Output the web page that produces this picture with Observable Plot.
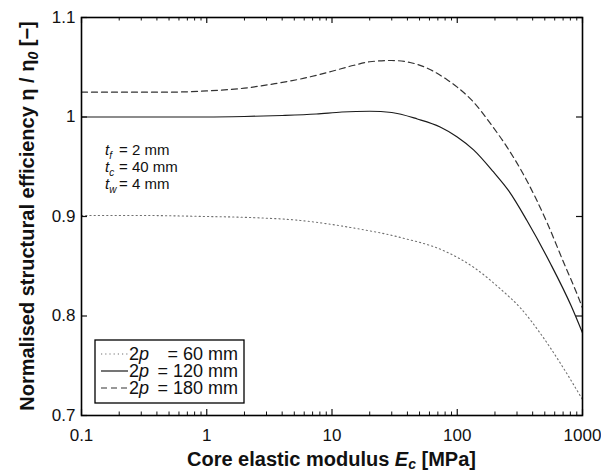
<!DOCTYPE html>
<html><head><meta charset="utf-8">
<script src="https://cdn.jsdelivr.net/npm/d3@7"></script>
<script src="https://cdn.jsdelivr.net/npm/@observablehq/plot@0.6"></script>
<style>body{margin:0;background:#fff}</style>
</head><body><div id="chart"></div>
<script>
// ---- data ----
const seriesLabels = ["60 mm", "120 mm", "180 mm"];

const E60   = [0.1, 0.3, 1, 2.2, 5.6, 14, 35, 80, 135, 222, 320, 464, 670, 1000];
const eta60 = [0.901, 0.901, 0.900, 0.899, 0.896, 0.889, 0.879, 0.865, 0.849, 0.827, 0.808, 0.782, 0.752, 0.716];

const E120   = [0.1, 0.5, 1, 2, 4, 7.5, 12, 20, 30, 48, 73, 100, 135, 194, 257, 360, 553, 813, 1000];
const eta120 = [1.000, 1.000, 1.000, 1.0005, 1.0015, 1.003, 1.005, 1.0058, 1.0045, 0.998, 0.990, 0.980, 0.967, 0.945, 0.926, 0.896, 0.853, 0.810, 0.783];

const E180   = [0.1, 0.5, 1, 2, 3.5, 6, 10, 15, 20, 30, 42, 60, 84, 100, 135, 185, 252, 332, 421, 525, 706, 912, 1000];
const eta180 = [1.025, 1.025, 1.0262, 1.029, 1.0335, 1.039, 1.046, 1.052, 1.0555, 1.0568, 1.0548, 1.048, 1.037, 1.030, 1.015, 0.993, 0.969, 0.944, 0.919, 0.893, 0.854, 0.821, 0.808];

const xTicks = [0.1, 1, 10, 100, 1000];
const xMinorTicks = [0.2,0.3,0.4,0.5,0.6,0.7,0.8,0.9, 2,3,4,5,6,7,8,9, 20,30,40,50,60,70,80,90, 200,300,400,500,600,700,800,900];
const yTicks = [0.7, 0.8, 0.9, 1.0, 1.1];

const annotation = [["f", "= 2 mm"], ["c", "= 40 mm"], ["w", "= 4 mm"]];

// ---- build tables ----
const toRows = (E, eta) => E.map((e, i) => ({E: e, eta: eta[i]}));
const d60 = toRows(E60, eta60), d120 = toRows(E120, eta120), d180 = toRows(E180, eta180);

const W = 601, H = 474, mL = 81, mR = 19, mT = 17, mB = 59;
const fW = W - mL - mR, fH = H - mT - mB;
const font = "'Liberation Sans', Arial, Helvetica, sans-serif";

const styles = [
  {stroke: "#707070", strokeWidth: 1.1, strokeDasharray: "1.2,3"},
  {stroke: "#1a1a1a", strokeWidth: 1.2, strokeDasharray: null},
  {stroke: "#333", strokeWidth: 1.2, strokeDasharray: "6,4"}
];

const plot = Plot.plot({
  width: W, height: H,
  marginLeft: mL, marginRight: mR, marginTop: mT, marginBottom: mB,
  style: {fontFamily: font, fontSize: "17px", color: "#111", background: "white"},
  x: {type: "log", domain: [0.1, 1000]},
  y: {domain: [0.7, 1.1]},
  marks: [
    Plot.line(d60,  {x: "E", y: "eta", curve: "monotone-x", ...styles[0]}),
    Plot.line(d120, {x: "E", y: "eta", curve: "monotone-x", ...styles[1]}),
    Plot.line(d180, {x: "E", y: "eta", curve: "monotone-x", ...styles[2]}),
    // inward ticks
    Plot.ruleX(xTicks, {x: d => d, insetTop: fH - 6, stroke: "#111", strokeWidth: 1.2}),
    Plot.ruleX(xTicks, {x: d => d, insetBottom: fH - 6, stroke: "#111", strokeWidth: 1.2}),
    Plot.ruleX(xMinorTicks, {x: d => d, insetTop: fH - 3.5, stroke: "#111", strokeWidth: 1}),
    Plot.ruleX(xMinorTicks, {x: d => d, insetBottom: fH - 3.5, stroke: "#111", strokeWidth: 1}),
    Plot.ruleY(yTicks, {y: d => d, insetRight: fW - 6, stroke: "#111", strokeWidth: 1.2}),
    Plot.ruleY(yTicks, {y: d => d, insetLeft: fW - 6, stroke: "#111", strokeWidth: 1.2}),
    Plot.axisX(xTicks, {tickSize: 0, tickPadding: 13, tickFormat: d => String(d), label: null}),
    Plot.axisY(yTicks, {tickSize: 0, tickPadding: 6, tickFormat: d => String(d), label: null}),
    Plot.frame({stroke: "#000", strokeWidth: 1.6})
  ]
});

document.getElementById("chart").appendChild(plot);
const svg = d3.select(plot);

// Y title
const yt = svg.append("text")
  .attr("transform", `translate(34,${mT + fH / 2}) rotate(-90)`)
  .attr("text-anchor", "middle")
  .attr("font-family", font).attr("font-weight", "bold").attr("font-size", 20).attr("fill", "#111");
yt.append("tspan").text("Normalised structural efficiency η / η");
yt.append("tspan").attr("font-style", "italic").attr("font-size", 14).attr("dy", 4).text("0");
yt.append("tspan").attr("dy", -4).text(" [−]");

// X title
const xt = svg.append("text")
  .attr("x", mL + fW / 2).attr("y", 466)
  .attr("text-anchor", "middle")
  .attr("font-family", font).attr("font-weight", "bold").attr("font-size", 20).attr("fill", "#111");
xt.append("tspan").text("Core elastic modulus ");
xt.append("tspan").attr("font-style", "italic").text("E");
xt.append("tspan").attr("font-style", "italic").attr("font-size", 14).attr("dy", 3).text("c");
xt.append("tspan").attr("dy", -3).text(" [MPa]");

// Annotation
annotation.forEach(([sub, txt], i) => {
  const t = svg.append("text").attr("x", 105).attr("y", 155 + i * 17).attr("text-anchor", "start")
    .attr("font-family", font).attr("font-size", 15).attr("fill", "#111");
  t.append("tspan").attr("font-style", "italic").text("t");
  t.append("tspan").attr("font-style", "italic").attr("font-size", 10).attr("dy", 4).text(sub);
  t.append("tspan").attr("x", 119).attr("dy", -4).attr("text-anchor", "start").text(txt);
});

// Legend
const lg = svg.append("g");
lg.append("rect").attr("x", 95).attr("y", 340).attr("width", 149).attr("height", 63)
  .attr("fill", "white").attr("stroke", "#000").attr("stroke-width", 1.3);
seriesLabels.forEach((lab, i) => {
  const y = 354 + i * 17;
  const s = styles[i];
  lg.append("line").attr("x1", 101).attr("x2", 128).attr("y1", y).attr("y2", y)
    .attr("stroke", s.stroke).attr("stroke-width", s.strokeWidth)
    .attr("stroke-dasharray", s.strokeDasharray);
  const t = lg.append("text").attr("x", 129).attr("y", y + 6).attr("text-anchor", "start")
    .attr("font-family", font).attr("font-size", 18).attr("fill", "#111");
  t.append("tspan").text("2");
  t.append("tspan").attr("font-style", "italic").text("p");
  t.append("tspan").attr("x", 238).attr("text-anchor", "end").text("= " + lab);
});
</script>
</body></html>
